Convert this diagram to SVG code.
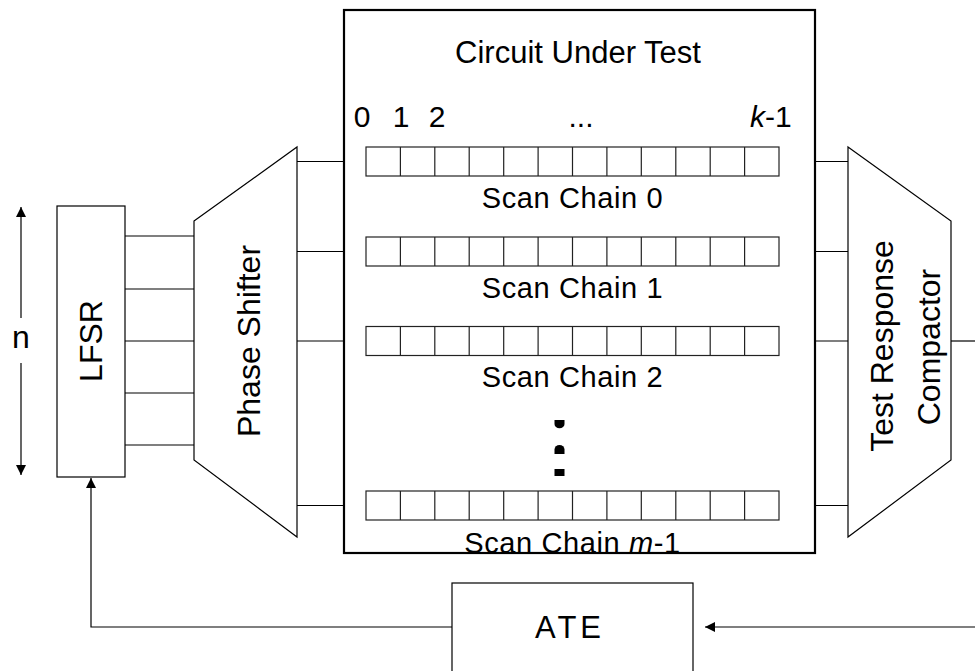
<svg xmlns="http://www.w3.org/2000/svg" xmlns:xlink="http://www.w3.org/1999/xlink" width="975" height="671" viewBox="0 0 975 671">
<style>
.ln{stroke:#000;stroke-width:1.2;fill:none}
.box{stroke:#000;stroke-width:1.2;fill:#fff}
.cut{stroke:#000;stroke-width:2.2;fill:#fff}
.cell{stroke:#222;stroke-width:1.2;fill:#fff}
text{font-family:"Liberation Sans",Arial,sans-serif;fill:#000}
.big{font-size:32px}
.t30{font-size:30px}
.sc{font-size:29px;letter-spacing:0.6px;text-anchor:middle}
</style>
<defs>
<marker id="ah" viewBox="0 0 10 10" refX="10" refY="5" markerWidth="10" markerHeight="16" markerUnits="userSpaceOnUse" orient="auto">
<path d="M0,0 L10,5 L0,10 z" fill="#000"/>
</marker>
<g id="chain">
<rect class="cell" x="0" y="0" width="413" height="29"/>
<path class="cell" d="M34.4,0v29M68.8,0v29M103.2,0v29M137.7,0v29M172.1,0v29M206.5,0v29M240.9,0v29M275.3,0v29M309.8,0v29M344.2,0v29M378.6,0v29"/>
</g>
</defs>

<g id="connectors">
<path class="ln" d="M125,236H194M125,289H194M125,341H194M125,393H194M125,445H194"/>
<path class="ln" d="M297,161.5H366M297,251.5H366M297,341H366M297,505.5H366"/>
<path class="ln" d="M779,161.5H848M779,251.5H848M779,341H848M779,505.5H848"/>
<path class="ln" d="M951,341H975"/>
<path class="ln" d="M975,627H705" marker-end="url(#ah)"/>
<path class="ln" d="M453,627H91V478" marker-end="url(#ah)"/>
<path class="ln" d="M21,318V207" marker-end="url(#ah)"/>
<path class="ln" d="M21,363V475" marker-end="url(#ah)"/>
</g>

<g id="n-label"><text class="big" x="21" y="348" text-anchor="middle">n</text></g>

<g id="lfsr">
<rect class="box" x="57" y="206" width="68" height="271"/>
<text class="big" transform="translate(102,341) rotate(-90)" text-anchor="middle">LFSR</text>
</g>

<g id="phase-shifter">
<polygon class="box" points="194,221 297,147 297,537 194,460"/>
<text class="big" transform="translate(260,341) rotate(-90)" text-anchor="middle">Phase Shifter</text>
</g>

<g id="cut">
<rect class="cut" x="344" y="10" width="471" height="543"/>
<text x="578" y="63" text-anchor="middle" style="font-size:31px">Circuit Under Test</text>
<text class="t30" x="362" y="127" text-anchor="middle">0</text>
<text class="t30" x="401" y="127" text-anchor="middle">1</text>
<text class="t30" x="437" y="127" text-anchor="middle">2</text>
<text class="t30" x="581" y="127" text-anchor="middle">...</text>
<text class="t30" x="750" y="127"><tspan font-style="italic">k</tspan>-1</text>
</g>

<g id="scan-chain-0">
<use xlink:href="#chain" x="366" y="147"/>
<text class="sc" x="572.5" y="208">Scan Chain 0</text>
</g>
<g id="scan-chain-1">
<use xlink:href="#chain" x="366" y="237"/>
<text class="sc" x="572.5" y="298">Scan Chain 1</text>
</g>
<g id="scan-chain-2">
<use xlink:href="#chain" x="366" y="326.5"/>
<text class="sc" x="572.5" y="387">Scan Chain 2</text>
</g>
<g id="dots">
<path d="M554.5,420H564.5V424A5,4.3 0 0 1 554.5,424Z" fill="#000"/>
<path d="M554.5,454H564.5V449.5A5,4.5 0 0 0 554.5,449.5Z" fill="#000"/>
<rect x="554.5" y="469" width="10" height="7" fill="#000"/>
</g>
<g id="scan-chain-m-1">
<use xlink:href="#chain" x="366" y="491"/>
<text class="sc" x="572.5" y="553">Scan Chain <tspan font-style="italic">m</tspan>-1</text>
</g>

<g id="compactor">
<polygon class="box" points="848,147 951,221 951,460 848,537"/>
<text class="big" transform="translate(893,346) rotate(-90)" text-anchor="middle">Test Response</text>
<text class="big" transform="translate(940,347) rotate(-90)" text-anchor="middle">Compactor</text>
</g>

<g id="ate">
<rect class="box" x="452" y="583" width="241" height="100"/>
<text x="570" y="638" text-anchor="middle" style="font-size:31px;letter-spacing:4px">ATE</text>
</g>
</svg>
